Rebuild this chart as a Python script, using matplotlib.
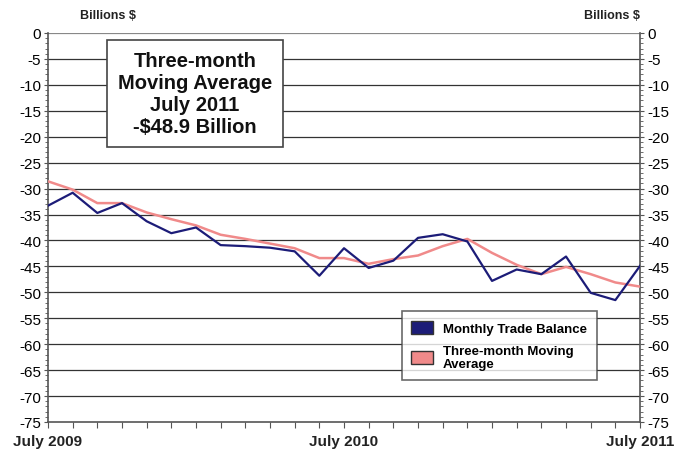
import numpy as np
import matplotlib.pyplot as plt
from matplotlib.patches import Patch
from matplotlib.ticker import MultipleLocator

plt.rcParams['font.family'] = ['Liberation Sans', 'DejaVu Sans']
plt.rcParams['axes.unicode_minus'] = False

# monthly values, July 2009 .. July 2011 (billions of dollars)
monthly = [-33.3, -30.8, -34.7, -32.8, -36.3, -38.6, -37.5, -40.9, -41.1, -41.4,
           -42.1, -46.8, -41.5, -45.3, -43.9, -39.5, -38.8, -40.2, -47.8, -45.6,
           -46.5, -43.1, -50.1, -51.5, -44.9]
moving_avg = [-28.6, -30.2, -32.8, -32.8, -34.6, -35.9, -37.1, -38.9, -39.7, -40.6,
              -41.5, -43.4, -43.4, -44.5, -43.6, -42.9, -41.1, -39.7, -42.4, -44.7,
              -46.5, -45.1, -46.5, -48.1, -48.9]
x_labels = ['July 2009', 'July 2010', 'July 2011']
y_ticks = list(range(0, -80, -5))

navy = '#1c1c78'
pink = '#f08a8a'

fig = plt.figure(figsize=(6.74, 4.52), dpi=100)
ax = fig.add_axes([0.0712, 0.0642, 0.8784, 0.8606])

x = np.arange(len(monthly))
ax.plot(x, moving_avg, color=pink, lw=1.8, zorder=3)
ax.plot(x, monthly, color=navy, lw=1.6, zorder=4)

ax.set_xlim(0, len(monthly) - 1)
ax.set_ylim(-75, 0)
for v in y_ticks[1:-1]:
    ax.axhline(v, color='#333333', lw=0.9, zorder=1)
ax.axhline(0, color='#888888', lw=1.6, zorder=1)

ax.set_yticks(y_ticks)
ax.yaxis.set_minor_locator(MultipleLocator(1))
ax.tick_params(axis='y', which='both', left=True, right=True, labelleft=True,
               labelright=True, direction='out', labelsize=11, length=3,
               color='#555555', pad=2)
ax.tick_params(axis='y', which='minor', length=2)

ax.set_xticks(x)
ax.set_xticklabels([])
ax.tick_params(axis='x', direction='out', length=4, color='#555555')
for pos, lab in zip([0, 12, 24], x_labels):
    ax.text(pos, -77.4, lab, ha='center', va='top', fontsize=11,
            fontweight='bold', color='#222222', clip_on=False)

ax.spines['top'].set_visible(False)
for s in ['left', 'right', 'bottom']:
    ax.spines[s].set_color('#555555')
    ax.spines[s].set_linewidth(1.2)

fig.text(0.118, 0.965, 'Billions $', ha='left', va='center', fontsize=9,
         fontweight='bold', color='#222222')
fig.text(0.95, 0.965, 'Billions $', ha='right', va='center', fontsize=9,
         fontweight='bold', color='#222222')

ax.text(5.95, -11.6, 'Three-month\nMoving Average\nJuly 2011\n-$48.9 Billion',
        ha='center', va='center', fontsize=14.5, fontweight='bold',
        color='#111111', linespacing=1.2, zorder=5,
        bbox=dict(boxstyle='square,pad=0.55', fc='white', ec='#444444', lw=1.2))

handles = [Patch(facecolor=navy, edgecolor='#333333', label='Monthly Trade Balance'),
           Patch(facecolor=pink, edgecolor='#333333', label='Three-month Moving\nAverage')]
leg = ax.legend(handles=handles, loc='lower left', bbox_to_anchor=(0.586, 0.09),
                fontsize=9.5, frameon=True, fancybox=False, borderpad=0.75,
                handlelength=1.6, handleheight=1.1, labelspacing=0.75)
leg.get_frame().set_edgecolor('#444444')
leg.get_frame().set_linewidth(1.2)
for t in leg.get_texts():
    t.set_fontweight('bold')
leg.set_zorder(6)

fig.savefig('out.png', dpi=100)
